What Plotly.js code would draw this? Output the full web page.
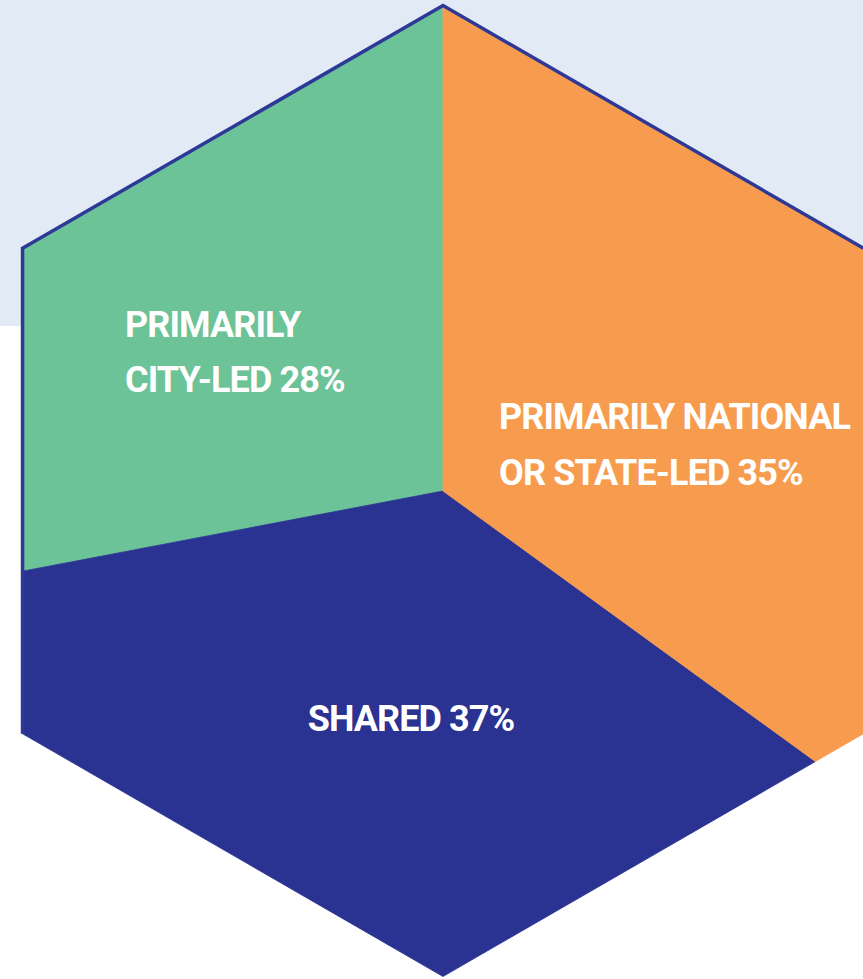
<!DOCTYPE html>
<html>
<head>
<meta charset="utf-8">
<script src="https://cdn.plot.ly/plotly-3.0.1.min.js"></script>
<style>
html,body{margin:0;padding:0;background:#fff;}
#chart{width:863px;height:979px;}
#chart .textpoint text{letter-spacing:-0.9px;}
</style>
</head>
<body>
<div id="chart"></div>
<script>
// ---- data ----
var categories = ["PRIMARILY<br>CITY-LED", "SHARED", "PRIMARILY NATIONAL<br>OR STATE-LED"];
var values = [28, 37, 35];
var colors = ["#6cc397", "#2a3292", "#f79c4e"];

// ---- geometry / style ----
var W = 863, H = 979;
var cx = 443, cy = 491;
var R = 485.5;                 // circumradius (pointy-top hexagon)
var A = R * Math.cos(Math.PI / 6); // apothem
var startAngle = 90;           // degrees, math convention, counter-clockwise
var labelPos = [
  {x: 125, y: 328, dy: 55, pos: "middle right"},
  {x: 411, y: 722, dy: 54, pos: "middle center"},
  {x: 499, y: 420, dy: 56, pos: "middle right"}
];
var fontFamily = "Roboto, 'DejaVu Sans Condensed', sans-serif";
var fontSize = 36;

function hexR(deg) {
  var d = (((deg + 30) % 60) + 60) % 60 - 30;
  return A / Math.cos(d * Math.PI / 180);
}
function pt(deg) {
  var r = hexR(deg), t = deg * Math.PI / 180;
  return [cx + r * Math.cos(t), cy - r * Math.sin(t)];
}

var total = values.reduce(function (a, b) { return a + b; }, 0);
var traces = [];
var a0 = startAngle;
values.forEach(function (v, i) {
  var a1 = a0 + v / total * 360;
  var angs = [a0];
  var firstV = Math.ceil((a0 - 30) / 60) * 60 + 30;
  for (var k = firstV; k < a1; k += 60) { if (k > a0) angs.push(k); }
  angs.push(a1);
  var xs = [cx], ys = [cy];
  angs.forEach(function (g) { var p = pt(g); xs.push(p[0]); ys.push(p[1]); });
  xs.push(cx); ys.push(cy);
  traces.push({
    type: "scatter", mode: "lines", x: xs, y: ys, fill: "toself",
    fillcolor: colors[i], line: {color: colors[i], width: 0.8},
    hoverinfo: "skip", showlegend: false
  });
  a0 = a1;
});

// outline along upper edges and left side
var outlineAngles = [30, 90, 150, 210];
var ox = [], oy = [];
outlineAngles.forEach(function (g) { var p = pt(g); ox.push(p[0]); oy.push(p[1]); });
traces.push({
  type: "scatter", mode: "lines", x: ox, y: oy,
  line: {color: "#2e3896", width: 3.5}, hoverinfo: "skip", showlegend: false
});

// labels
var tx = [], ty = [], tt = [], tp = [];
categories.forEach(function (c, i) {
  var lines = (c + " " + values[i] + "%").split("<br>");
  var lp = labelPos[i];
  lines.forEach(function (ln, j) {
    tx.push(lp.x); ty.push(lp.y + j * lp.dy); tt.push(ln); tp.push(lp.pos);
  });
});
traces.push({
  type: "scatter", mode: "text", x: tx, y: ty, text: tt, textposition: tp,
  textfont: {family: fontFamily, size: fontSize, color: "#ffffff", weight: "bold"},
  hoverinfo: "skip", showlegend: false
});

var layout = {
  width: W, height: H,
  margin: {l: 0, r: 0, t: 0, b: 0},
  paper_bgcolor: "#ffffff", plot_bgcolor: "rgba(0,0,0,0)",
  xaxis: {range: [0, W], visible: false, fixedrange: true},
  yaxis: {range: [H, 0], visible: false, fixedrange: true},
  shapes: [{type: "rect", xref: "x", yref: "y", x0: 0, x1: W, y0: 0, y1: 326,
            fillcolor: "#e2ebf5", line: {width: 0}, layer: "below"}],
  showlegend: false
};

Plotly.newPlot("chart", traces, layout, {displayModeBar: false, staticPlot: true});
</script>
</body>
</html>
